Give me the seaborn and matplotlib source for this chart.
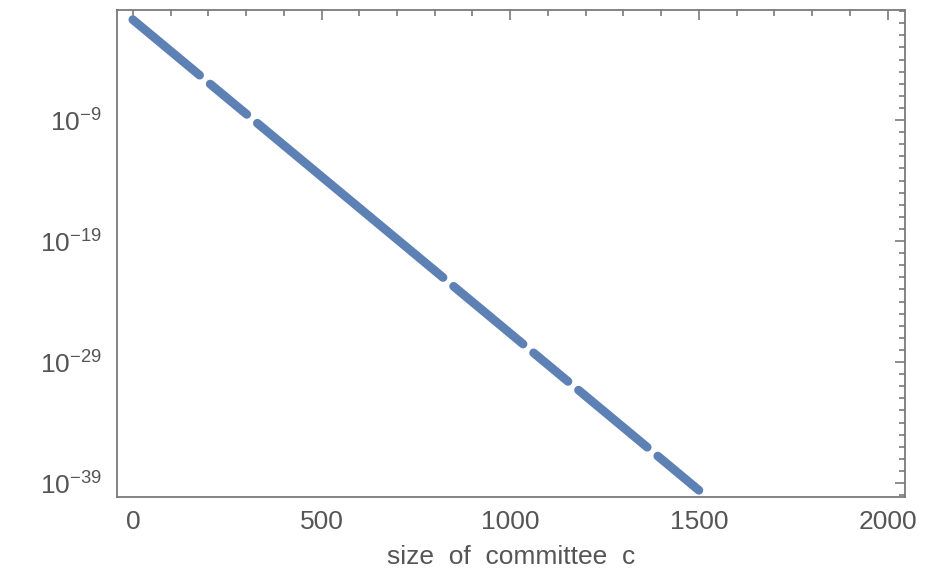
import numpy as np
import pandas as pd
import matplotlib
matplotlib.use("Agg")
import matplotlib.pyplot as plt
import matplotlib.ticker as mticker
import seaborn as sns

sns.set_theme(style="white")
plt.rcParams['font.family'] = ['Liberation Sans', 'DejaVu Sans']
plt.rcParams['mathtext.fontset'] = 'custom'
plt.rcParams['mathtext.rm'] = 'Liberation Sans'
plt.rcParams['mathtext.it'] = 'Liberation Sans'

# committee size c, log10 of failure probability, run of points (gaps between runs)
committee_size = [0, 177, 205, 302, 330, 822, 850, 1034, 1062, 1153, 1181, 1363, 1391, 1500]
log10_prob = [-0.70, -5.29, -6.02, -8.53, -9.26, -22.01, -22.74, -27.51,
              -28.24, -30.60, -31.32, -36.04, -36.77, -39.60]
run_id = [0, 0, 1, 1, 2, 2, 3, 3, 4, 4, 5, 5, 6, 6]

y_ticks = [1e-9, 1e-19, 1e-29, 1e-39]
y_tick_labels = [r"$10^{-9}$", r"$10^{-19}$", r"$10^{-29}$", r"$10^{-39}$"]
x_ticks = [0, 500, 1000, 1500, 2000]

df = pd.DataFrame({
    "c": committee_size,
    "p": [10.0 ** v for v in log10_prob],
    "run": run_id,
})

BLUE = "#5E81B5"
FRAME = "#7a7a7a"
TEXT = "#555555"

fig = plt.figure(figsize=(9.32, 5.78), dpi=100)
ax = fig.add_axes([0.1255, 0.140, 0.8455, 0.8425])
ax.set_yscale("log")

sns.lineplot(data=df, x="c", y="p", units="run", estimator=None,
             color=BLUE, linewidth=6.3, solid_capstyle="round", ax=ax)

ax.set_xlim(-42, 2046)
ax.set_ylim(10 ** -40.16, 10 ** 0.09)

ax.xaxis.set_major_locator(mticker.FixedLocator(x_ticks))
ax.xaxis.set_minor_locator(mticker.MultipleLocator(100))
ax.yaxis.set_major_locator(mticker.FixedLocator(y_ticks))
ax.yaxis.set_major_formatter(mticker.FixedFormatter(y_tick_labels))
ax.yaxis.set_minor_locator(mticker.FixedLocator(10.0 ** np.arange(-40, 1)))
ax.yaxis.set_minor_formatter(mticker.NullFormatter())

for side in ["left", "right", "top", "bottom"]:
    ax.spines[side].set_visible(True)
    ax.spines[side].set_color(FRAME)
    ax.spines[side].set_linewidth(1.3)

ax.tick_params(which="both", direction="in", top=True, right=True,
               color=FRAME, width=1.2, labelcolor=TEXT, labelsize=19)
ax.tick_params(which="major", length=7)
ax.tick_params(which="minor", length=4)
ax.tick_params(axis="x", which="major", pad=9)
ax.tick_params(axis="y", which="major", pad=11)

ax.set_xlabel("size  of  committee  c", fontsize=19, color=TEXT, labelpad=8)
ax.set_ylabel("")
ax.grid(False)

plt.savefig("out.png", dpi=100)
